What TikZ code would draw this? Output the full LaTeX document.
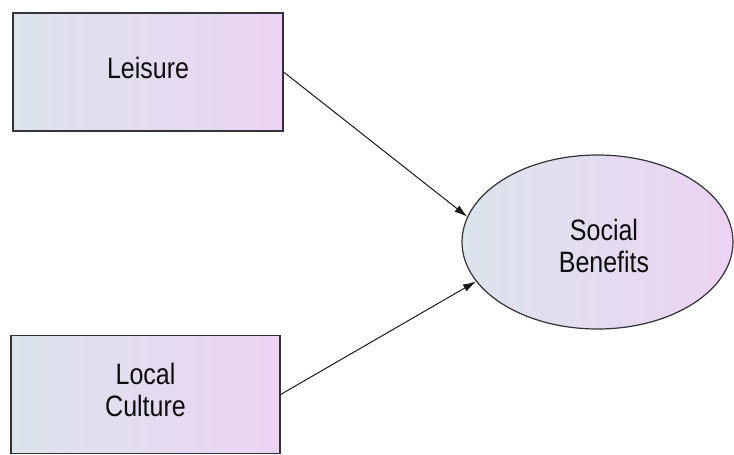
\documentclass[tikz,border=0pt]{standalone}
\usepackage{fontspec}
\setmainfont{Liberation Sans}
\usepackage{graphicx}
\usetikzlibrary{shapes.geometric,arrows.meta}

\definecolor{fillleft}{RGB}{220,228,236}
\definecolor{fillright}{RGB}{236,211,243}
\definecolor{edgegray}{RGB}{50,50,55}

% labels are set slightly tall, one or more centred lines
\newcommand{\tallstack}[1]{\scalebox{1}[1.18]{\begin{tabular}{@{}c@{}}#1\end{tabular}}}

\tikzset{
  shadedfill/.style={draw=edgegray, line width=1.2pt, left color=fillleft, right color=fillright},
  varbox/.style={shadedfill, rectangle, inner sep=0pt, minimum width=270pt, minimum height=118pt},
  latentvar/.style={shadedfill, ellipse, inner sep=0pt, minimum width=271pt, minimum height=174pt},
  labeltext/.style={font=\fontsize{25}{27}\selectfont, text=black!95, inner sep=0pt, align=center},
  link/.style={-{Latex[length=13pt,width=8pt]}, line width=1pt, black!90},
}

\begin{document}
\begin{tikzpicture}[x=1pt,y=-1pt]
  \useasboundingbox (0,0) rectangle (734,455);

  \node[varbox, labeltext] (leisure) at (148,72) {\tallstack{Leisure}};
  \node[varbox, labeltext, minimum width=269pt, minimum height=118pt] (culture) at (145.5,394.5) {\tallstack{Local\\Culture}};

  \node[latentvar] (social) at (597.5,242) {};
  \node[labeltext] (socialtext) at (604,250) {\tallstack{Social\\Benefits}};

  \draw[link] (leisure.east) -- (social.169);
  \draw[link] (culture.east) -- (social.198);
\end{tikzpicture}
\end{document}
